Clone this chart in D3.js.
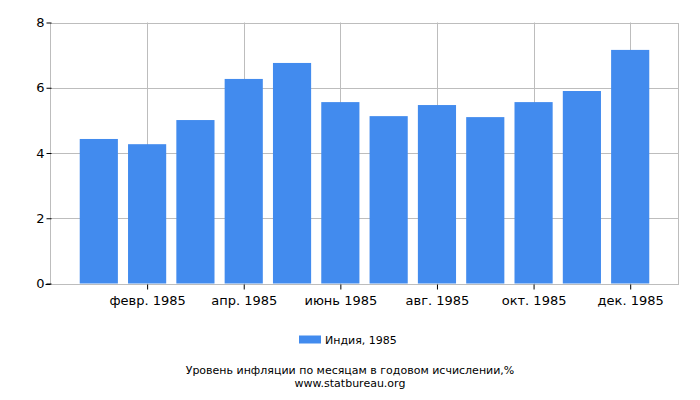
<!DOCTYPE html>
<html><head><meta charset="utf-8">
<script src="https://cdn.jsdelivr.net/npm/d3@7"></script>
<style>body{margin:0;background:#fff}svg{display:block;font-family:"DejaVu Sans",sans-serif}</style>
</head><body><svg id="c" width="700" height="400"></svg>
<script>
const months = [1,2,3,4,5,6,7,8,9,10,11,12];
const values = [4.43,4.27,5.01,6.27,6.76,5.56,5.13,5.47,5.10,5.56,5.90,7.16];
const tickMonths = [2,4,6,8,10,12];
const tickLabels = ["февр. 1985","апр. 1985","июнь 1985","авг. 1985","окт. 1985","дек. 1985"];
const yTicks = [0,2,4,6,8];
const seriesName = "Индия, 1985";
const title = "Уровень инфляции по месяцам в годовом исчислении,%";
const source = "www.statbureau.org";

const svg = d3.select("#c");
const L=50.5,R=678.5,T=22.5,B=283.5;
const x = d3.scaleLinear().domain([0,13]).range([L,R]);
const y = d3.scaleLinear().domain([0,8]).range([B,T]);
const bw = (x(1)-x(0))*0.79;
const grid="#bdbdbd";
// grid
svg.append("g").selectAll("line.h").data(yTicks).join("line")
 .attr("x1",L).attr("x2",R).attr("y1",d=>Math.round(y(d))+0.5).attr("y2",d=>Math.round(y(d))+0.5).attr("stroke",grid);
svg.append("g").selectAll("line.v").data(tickMonths).join("line")
 .attr("x1",d=>Math.round(x(d))+0.5).attr("x2",d=>Math.round(x(d))+0.5).attr("y1",T).attr("y2",B).attr("stroke",grid);
svg.append("rect").attr("x",L).attr("y",Math.round(T)+0.5).attr("width",R-L).attr("height",Math.round(B)-Math.round(T)).attr("fill","none").attr("stroke",grid);
// bars
svg.append("g").selectAll("rect").data(values).join("rect")
 .attr("x",(d,i)=>x(months[i])-bw/2).attr("width",bw)
 .attr("y",d=>y(d)).attr("height",d=>B-y(d)).attr("fill","#428bee");
// y axis
const ya = svg.append("g").attr("transform",`translate(${Math.round(L)+0.5},0)`)
 .call(d3.axisLeft(y).tickValues(yTicks).tickSize(5).tickPadding(2).tickFormat(d3.format("d")));
ya.select(".domain").remove();
ya.selectAll("text").attr("font-size",13).attr("font-family","DejaVu Sans").attr("fill","#000");
ya.selectAll("line").attr("stroke","#000");
// x axis
const xa = svg.append("g").attr("transform",`translate(0,${Math.round(B)+0.5})`)
 .call(d3.axisBottom(x).tickValues(tickMonths).tickSize(5).tickPadding(6).tickFormat((d,i)=>tickLabels[i]));
xa.select(".domain").remove();
xa.selectAll("text").attr("font-size",13).attr("font-family","DejaVu Sans").attr("fill","#000");
xa.selectAll("line").attr("stroke","#000");
svg.append("line").attr("x1",L-5).attr("x2",L).attr("y1",Math.round(B)+0.5).attr("y2",Math.round(B)+0.5).attr("stroke","#000");
// legend
svg.append("rect").attr("x",299).attr("y",335.5).attr("width",22).attr("height",8).attr("fill","#428bee");
svg.append("text").attr("x",325).attr("y",344).attr("font-size",11).attr("fill","#000").text(seriesName);
svg.append("text").attr("x",350).attr("y",374).attr("text-anchor","middle").attr("font-size",11).attr("fill","#000").text(title);
svg.append("text").attr("x",350).attr("y",387).attr("text-anchor","middle").attr("font-size",11).attr("fill","#000").text(source);
</script></body></html>
